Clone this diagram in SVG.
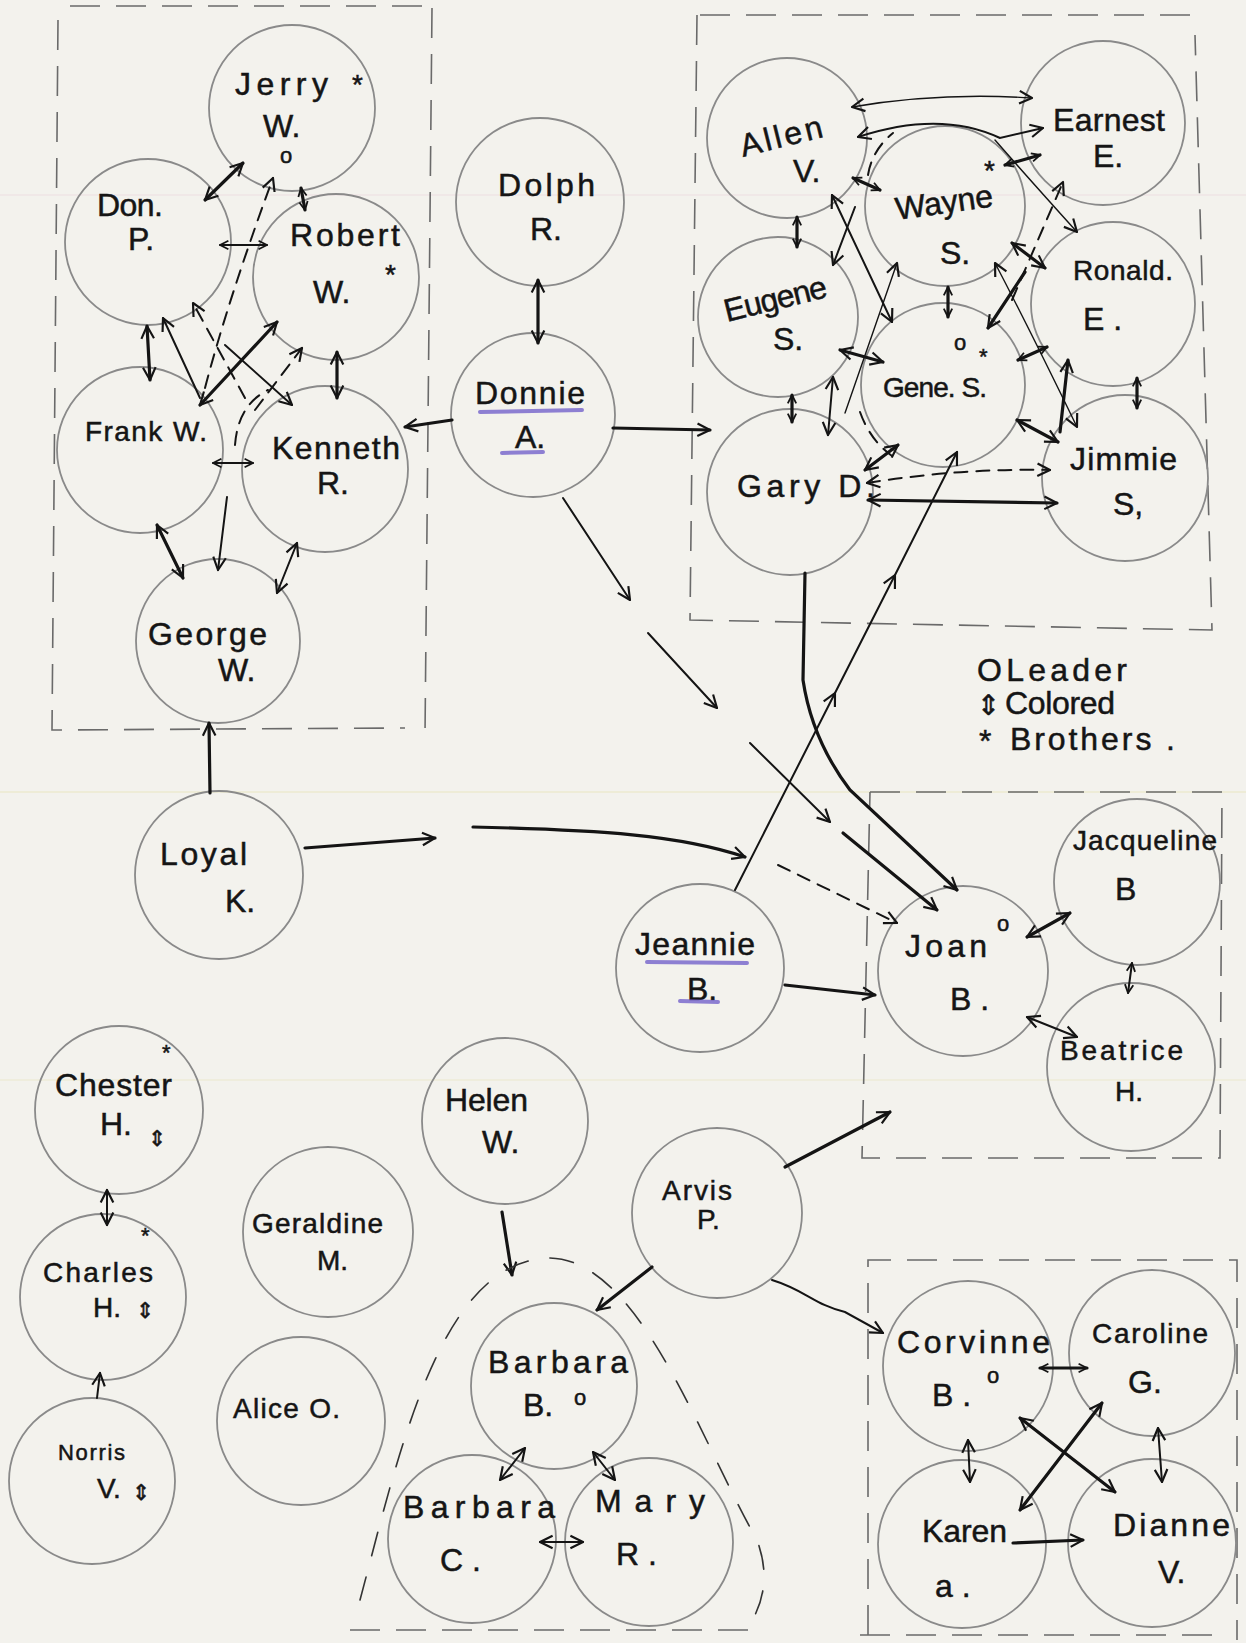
<svg xmlns="http://www.w3.org/2000/svg" width="1246" height="1643" viewBox="0 0 1246 1643">
<style>
.bg{fill:#f3f2ed}
.pl{stroke-width:1;fill:none;opacity:.5}
.fr{fill:none;stroke:#6a6a6a;stroke-width:1.6;stroke-dasharray:30 16}
.nd circle{fill:none;stroke:#8a8a8a;stroke-width:1.8}
text{font-family:"Liberation Sans","DejaVu Sans",sans-serif;fill:#151515;stroke:#151515;stroke-width:0.5}
.n{font-size:32px}
.s{font-size:28px}
.k{font-size:22px}
.ul{stroke:#6b58c8;stroke-width:4;opacity:.75;fill:none;stroke-linecap:round}
.c{fill:none;stroke:#141414;stroke-width:2;stroke-linecap:round}
.b{stroke-width:3.2}
.t{stroke-width:1.4}
.d{stroke-dasharray:13 9}
.dd{stroke-dasharray:24 22;stroke:#333;stroke-width:1.6}
.e{marker-end:url(#m)}
.bo{marker-start:url(#m);marker-end:url(#m)}
.es{marker-end:url(#ms)}
.bs{marker-start:url(#ms);marker-end:url(#ms)}
.mid{marker-mid:url(#m)}
</style>
<defs>
<marker id="m" viewBox="0 0 20 20" refX="17" refY="10" markerWidth="18" markerHeight="18" markerUnits="userSpaceOnUse" orient="auto-start-reverse"><path d="M3,3 L17,10 L3,17" fill="none" stroke="#141414" stroke-width="2.4" stroke-linejoin="round"/></marker>
<marker id="ms" viewBox="0 0 20 20" refX="17" refY="10" markerWidth="12" markerHeight="12" markerUnits="userSpaceOnUse" orient="auto-start-reverse"><path d="M3,3 L17,10 L3,17" fill="none" stroke="#141414" stroke-width="3" stroke-linejoin="round"/></marker>
</defs>
<rect class="bg" x="0" y="0" width="1246" height="1643"/>
<g id="paper-lines">
<line class="pl" x1="0" y1="195" x2="1246" y2="195" stroke="#e7cdd8"/>
<line class="pl" x1="0" y1="792" x2="1246" y2="792" stroke="#e2dc98"/>
<line class="pl" x1="0" y1="1080" x2="1246" y2="1080" stroke="#e6e2b0"/>
</g>
<g id="frames">
<path class="fr" d="M70,6 L430,6"/>
<path class="fr" d="M700,15 L1192,15"/>
<path class="fr" d="M58,20 L52,730 L405,728"/>
<path class="fr" d="M432,8 L425,735"/>
<path class="fr" d="M697,15 L690,620 L1212,630 L1195,35"/>
<path class="fr" d="M870,792 L1222,792 L1220,1158 L862,1158 L870,792"/>
<path class="fr" d="M868,1635 L868,1260 L1237,1260 L1237,1640"/>
<path class="fr" d="M860,1635 L1225,1635"/>
<path class="fr" d="M350,1630 L760,1630"/>
</g>
<g id="nodes">
<g id="jerry" class="nd"><circle cx="292" cy="108" r="83"/><text class="n" x="235" y="95" textLength="93">Jerry</text><text class="s" x="352" y="94">*</text><text class="n" x="263" y="137">W.</text><text class="k" x="280" y="163">o</text></g>
<g id="don" class="nd"><circle cx="148" cy="242" r="83"/><text class="n" x="97" y="216" textLength="66">Don.</text><text class="n" x="128" y="250">P.</text></g>
<g id="robert" class="nd"><circle cx="336" cy="277" r="83"/><text class="n" x="290" y="246" textLength="110">Robert</text><text class="s" x="385" y="284">*</text><text class="n" x="313" y="303">W.</text></g>
<g id="frank" class="nd"><circle cx="140" cy="450" r="83"/><text class="s" x="85" y="441" textLength="122">Frank W.</text></g>
<g id="kenneth" class="nd"><circle cx="325" cy="469" r="83"/><text class="n" x="272" y="459" textLength="128">Kenneth</text><text class="n" x="317" y="494">R.</text></g>
<g id="george" class="nd"><circle cx="218" cy="641" r="82"/><text class="n" x="148" y="645" textLength="119">George</text><text class="n" x="218" y="681">W.</text></g>
<g id="loyal" class="nd"><circle cx="219" cy="875" r="84"/><text class="n" x="160" y="865" textLength="87">Loyal</text><text class="n" x="225" y="912">K.</text></g>
<g id="chester" class="nd"><circle cx="119" cy="1110" r="84"/><text class="n" x="55" y="1096" textLength="117">Chester</text><text class="k" x="162" y="1060">*</text><text class="n" x="100" y="1135">H.</text><text class="k" x="148" y="1146">⇕</text></g>
<g id="charles" class="nd"><circle cx="103" cy="1297" r="83"/><text class="s" x="43" y="1282" textLength="110">Charles</text><text class="k" x="141" y="1243">*</text><text class="s" x="93" y="1317">H.</text><text class="k" x="136" y="1318">⇕</text></g>
<g id="norris" class="nd"><circle cx="92" cy="1481" r="83"/><text class="k" x="58" y="1460" textLength="67">Norris</text><text class="s" x="97" y="1498">V.</text><text class="k" x="132" y="1500">⇕</text></g>
<g id="geraldine" class="nd"><circle cx="328" cy="1232" r="85"/><text class="s" x="252" y="1233" textLength="131">Geraldine</text><text class="s" x="317" y="1270">M.</text></g>
<g id="alice" class="nd"><circle cx="301" cy="1421" r="84"/><text class="s" x="233" y="1418" textLength="107">Alice O.</text></g>
<g id="helen" class="nd"><circle cx="505" cy="1121" r="83"/><text class="n" x="445" y="1111" textLength="83">Helen</text><text class="n" x="482" y="1153">W.</text></g>
<g id="arvis" class="nd"><circle cx="717" cy="1213" r="85"/><text class="s" x="662" y="1200" textLength="70">Arvis</text><text class="s" x="697" y="1229">P.</text></g>
<g id="barbara-b" class="nd"><circle cx="554" cy="1386" r="83"/><text class="n" x="488" y="1373" textLength="140">Barbara</text><text class="n" x="523" y="1416">B.</text><text class="k" x="574" y="1405">o</text></g>
<g id="barbara-c" class="nd"><circle cx="472" cy="1539" r="84"/><text class="n" x="403" y="1518" textLength="152">Barbara</text><text class="n" x="440" y="1571">C .</text></g>
<g id="mary" class="nd"><circle cx="649" cy="1542" r="84"/><text class="n" x="595" y="1512" textLength="110">Mary</text><text class="n" x="616" y="1565">R .</text></g>
<g id="corvinne" class="nd"><circle cx="968" cy="1366" r="85"/><text class="n" x="897" y="1353" textLength="153">Corvinne</text><text class="k" x="987" y="1383">o</text><text class="n" x="932" y="1406">B .</text></g>
<g id="caroline" class="nd"><circle cx="1152" cy="1353" r="83"/><text class="s" x="1092" y="1343" textLength="116">Caroline</text><text class="n" x="1128" y="1393">G.</text></g>
<g id="karen" class="nd"><circle cx="962" cy="1544" r="84"/><text class="n" x="922" y="1542" textLength="85">Karen</text><text class="n" x="935" y="1597">a .</text></g>
<g id="dianne" class="nd"><circle cx="1152" cy="1543" r="84"/><text class="n" x="1113" y="1536" textLength="117">Dianne</text><text class="n" x="1158" y="1583">V.</text></g>
<g id="joan" class="nd"><circle cx="963" cy="971" r="85"/><text class="n" x="905" y="957" textLength="82">Joan</text><text class="k" x="997" y="931">o</text><text class="n" x="950" y="1010">B .</text></g>
<g id="jacqueline" class="nd"><circle cx="1137" cy="882" r="83"/><text class="s" x="1073" y="850" textLength="144">Jacqueline</text><text class="n" x="1115" y="900">B</text></g>
<g id="beatrice" class="nd"><circle cx="1131" cy="1067" r="84"/><text class="s" x="1060" y="1060" textLength="123">Beatrice</text><text class="s" x="1115" y="1101">H.</text></g>
<g id="jeannie" class="nd"><circle cx="700" cy="968" r="84"/><text class="n" x="635" y="955" textLength="120">Jeannie</text><text class="n" x="687" y="1000">B.</text><path class="ul" d="M647,962 L747,963"/><path class="ul" d="M680,1001 L718,1002"/></g>
<g id="donnie" class="nd"><circle cx="533" cy="415" r="82"/><text class="n" x="475" y="404" textLength="110">Donnie</text><text class="n" x="515" y="448">A.</text><path class="ul" d="M480,412 L582,410"/><path class="ul" d="M502,453 L543,452"/></g>
<g id="dolph" class="nd"><circle cx="540" cy="202" r="84"/><text class="n" x="498" y="196" textLength="97">Dolph</text><text class="n" x="530" y="240">R.</text></g>
<g id="allen" class="nd"><circle cx="787" cy="138" r="80"/><text class="n" x="743" y="157" textLength="84" transform="rotate(-14 743 157)">Allen</text><text class="n" x="793" y="182">V.</text></g>
<g id="earnest" class="nd"><circle cx="1103" cy="123" r="82"/><text class="n" x="1053" y="131" textLength="112">Earnest</text><text class="n" x="1093" y="167">E.</text></g>
<g id="wayne" class="nd"><circle cx="945" cy="206" r="80"/><text class="n" x="897" y="220" textLength="98" transform="rotate(-8 897 220)">Wayne</text><text class="s" x="984" y="180">*</text><text class="n" x="940" y="264">S.</text></g>
<g id="eugene" class="nd"><circle cx="778" cy="317" r="80"/><text class="n" x="727" y="322" textLength="105" transform="rotate(-14 727 322)">Eugene</text><text class="n" x="773" y="350">S.</text></g>
<g id="ronald" class="nd"><circle cx="1113" cy="304" r="82"/><text class="s" x="1073" y="280" textLength="100">Ronald.</text><text class="n" x="1083" y="330">E .</text></g>
<g id="gene" class="nd"><circle cx="943" cy="385" r="82"/><text class="s" x="883" y="397" textLength="104">Gene. S.</text><text class="k" x="954" y="350">o</text><text class="k" x="979" y="364">*</text></g>
<g id="jimmie" class="nd"><circle cx="1125" cy="478" r="83"/><text class="n" x="1070" y="470" textLength="107">Jimmie</text><text class="n" x="1113" y="515">S,</text></g>
<g id="gary" class="nd"><circle cx="790" cy="492" r="83"/><text class="n" x="737" y="497" textLength="138">Gary D.</text></g>
</g>
<g id="connectors">
<path class="c b bo" d="M205,200 L243,163"/>
<path class="c b bs" d="M301,188 L305,210"/>
<path class="c bs" d="M220,245 L267,245"/>
<path class="c d e" d="M205,388 Q 228,300 273,178"/>
<path class="c b bo" d="M147,326 L150,380"/>
<path class="c e" d="M200,398 L163,318"/>
<path class="c d e" d="M245,398 L193,303"/>
<path class="c e" d="M225,345 L292,405"/>
<path class="c b bo" d="M200,405 L277,322"/>
<path class="c d e" d="M255,410 L302,348"/>
<path class="c b bo" d="M337,352 L337,398"/>
<path class="c bs" d="M213,463 L253,463"/>
<path class="c d" d="M235,445 Q 238,405 268,390"/>
<path class="c e" d="M227,497 L218,570"/>
<path class="c b bo" d="M157,525 L183,578"/>
<path class="c bo" d="M297,543 L277,593"/>
<path class="c b e" d="M210,793 L209,723"/>
<path class="c b e" d="M452,420 L405,427"/>
<path class="c b bo" d="M538,280 L538,343"/>
<path class="c b e" d="M613,428 L710,430"/>
<path class="c e" d="M563,498 L630,600"/>
<path class="c e" d="M648,633 L717,708"/>
<path class="c e" d="M750,743 L830,822"/>
<path class="c b e" d="M843,833 L937,910"/>
<path class="c b e" d="M305,848 L435,838"/>
<path class="c b e" d="M473,827 C 600,830 680,835 745,857"/>
<path class="c d e" d="M778,865 L897,923"/>
<path class="c b e" d="M805,573 L803,680 Q 812,740 850,790 L957,890"/>
<path class="c mid e" d="M735,890 L835,693 L895,575 L957,452"/>
<path class="c b e" d="M785,985 L875,995"/>
<path class="c b e" d="M785,1167 L890,1112"/>
<path class="c b e" d="M652,1267 L597,1310"/>
<path class="c e" d="M772,1280 C 805,1290 815,1305 845,1312 L883,1333"/>
<path class="c b e" d="M502,1212 L512,1275"/>
<path class="c bo" d="M525,1448 L500,1480"/>
<path class="c bo" d="M593,1452 L615,1480"/>
<path class="c bo" d="M540,1542 L583,1542"/>
<path class="c dd" d="M360,1600 C 400,1450 440,1260 550,1258 C 640,1260 700,1440 757,1540 Q 772,1580 755,1615"/>
<path class="c bo" d="M107,1190 L107,1225"/>
<path class="c e" d="M97,1398 L100,1373"/>
<path class="c b bs" d="M1040,1368 L1087,1368"/>
<path class="c bo" d="M968,1440 L970,1482"/>
<path class="c bo" d="M1158,1428 L1162,1482"/>
<path class="c b bo" d="M1020,1418 L1115,1492"/>
<path class="c b bo" d="M1020,1510 L1102,1403"/>
<path class="c b e" d="M1013,1543 L1083,1540"/>
<path class="c b bo" d="M1027,937 L1070,913"/>
<path class="c bs" d="M1132,963 L1128,993"/>
<path class="c bo" d="M1027,1017 L1077,1037"/>
<path class="c t bo" d="M852,107 Q 940,92 1032,98"/>
<path class="c bo" d="M858,137 Q 940,110 1000,138 L1043,128"/>
<path class="c t e" d="M995,140 Q 1030,180 1077,232"/>
<path class="c b bs" d="M1005,165 L1040,155"/>
<path class="c b bs" d="M853,178 L880,190"/>
<path class="c d" d="M868,175 Q 872,150 893,133"/>
<path class="c b bs" d="M797,217 L797,247"/>
<path class="c bo" d="M832,195 L892,322"/>
<path class="c e" d="M855,207 L833,265"/>
<path class="c t e" d="M845,413 L897,263"/>
<path class="c b bs" d="M948,287 L948,317"/>
<path class="c b bo" d="M840,350 L883,362"/>
<path class="c b bs" d="M792,395 L792,422"/>
<path class="c bo" d="M833,377 L828,435"/>
<path class="c b bo" d="M1045,268 L1012,243"/>
<path class="c d e" d="M1012,300 L1063,182"/>
<path class="c t bo" d="M995,263 Q 1030,330 1077,427"/>
<path class="c b e" d="M1025,272 L988,328"/>
<path class="c b bs" d="M1018,360 L1047,347"/>
<path class="c b bs" d="M1137,378 L1137,408"/>
<path class="c b e" d="M1060,432 L1068,360"/>
<path class="c b bo" d="M1017,420 L1058,442"/>
<path class="c b bo" d="M865,470 L898,445"/>
<path class="c d bo" d="M867,483 Q 960,468 1050,470"/>
<path class="c d" d="M860,412 Q 870,440 892,456"/>
<path class="c b bo" d="M868,500 L1057,503"/>
</g>
<g id="legend">
<text class="n" x="977" y="681" textLength="150">OLeader</text>
<text class="s" x="977" y="715">⇕</text>
<text class="n" x="1005" y="714" textLength="110">Colored</text>
<text class="n" x="979" y="752">*</text>
<text class="n" x="1010" y="750" textLength="165">Brothers .</text>
</g>
</svg>
